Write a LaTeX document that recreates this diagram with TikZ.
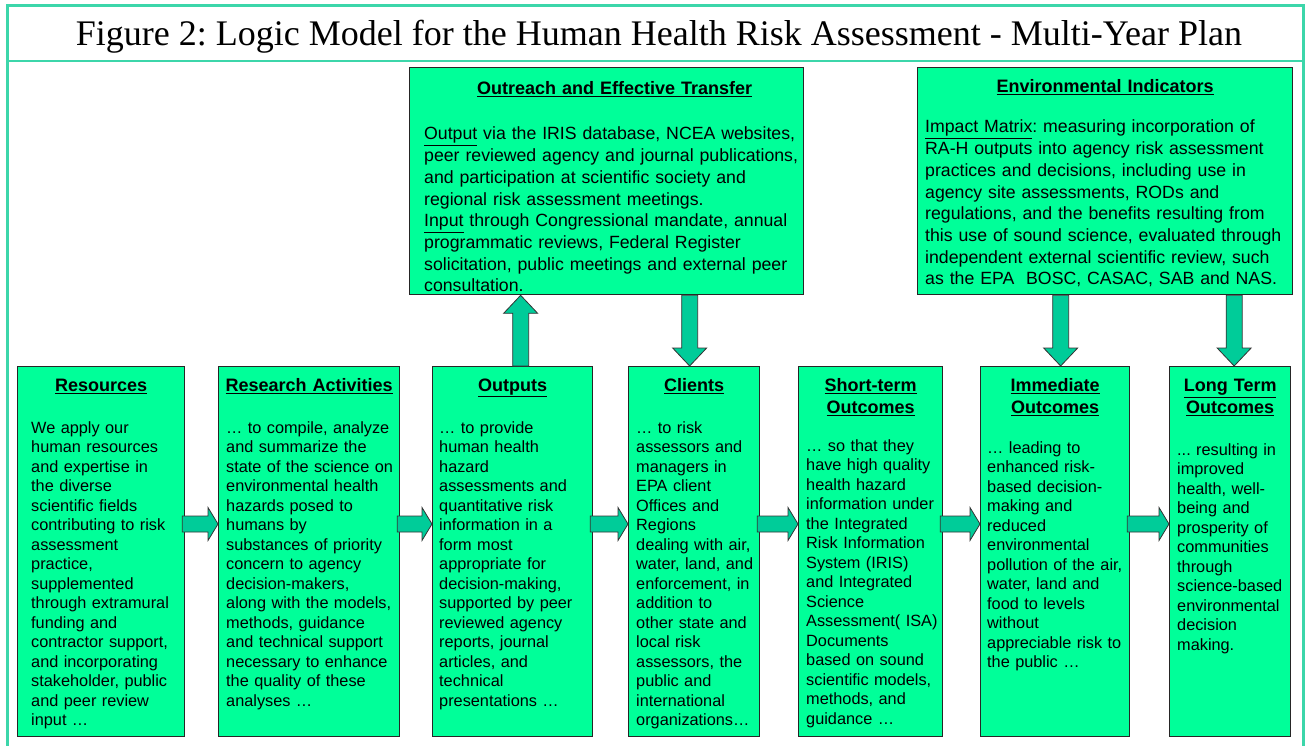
\documentclass[tikz,border=0pt]{standalone}
\usepackage{fontspec}
\setmainfont{Liberation Serif}
\setsansfont{Liberation Sans}
\usetikzlibrary{calc}
\frenchspacing

\definecolor{framegreen}{RGB}{60,214,170}
\definecolor{boxgreen}{RGB}{0,255,153}
\definecolor{arrowgreen}{RGB}{0,204,153}

\tikzset{
  box/.style={draw=black!85, line width=1.3pt, fill=boxgreen, anchor=north west, inner sep=0pt},
  boxhead/.style={font=\sffamily\bfseries\fontsize{18}{22}\selectfont, align=center, text width=170pt, anchor=base, inner sep=0pt},
  boxbody/.style={font=\sffamily\fontsize{16.3}{19.5}\selectfont, align=left, text width=200pt, anchor=base west, inner sep=0pt},
  topbody/.style={boxbody, font=\sffamily\fontsize{17.7}{21.7}\selectfont, text width=400pt},
  blockarrow/.style={draw=black!80, line width=0.8pt, fill=arrowgreen},
  frameline/.style={draw=framegreen, line width=3pt}
}

% block arrows between the boxes
\newcommand{\blockright}[2]{%
  \path[blockarrow] let \p1=([yshift=-158pt]#1.north east), \p2=([yshift=-158pt]#2.north west) in
    (\x1-3pt,\y1+8pt) -- (\x2-10pt,\y1+8pt) -- (\x2-10pt,\y1+16.5pt) -- (\x2,\y1)
    -- (\x2-10pt,\y1-16.5pt) -- (\x2-10pt,\y1-8pt) -- (\x1-3pt,\y1-8pt) -- cycle;}
\newcommand{\blockup}[3]{%
  \path[blockarrow] let \p1=([xshift=#3]#1.north), \p2=(#2.south) in
    (\x1-8pt,\y1) -- (\x1-8pt,\y2-18pt) -- (\x1-17pt,\y2-18pt) -- (\x1,\y2)
    -- (\x1+17pt,\y2-18pt) -- (\x1+8pt,\y2-18pt) -- (\x1+8pt,\y1) -- cycle;}
\newcommand{\blockdown}[3]{%
  \path[blockarrow] let \p1=(#1.south), \p2=([xshift=#3]#2.north) in
    (\x2-8pt,\y1) -- (\x2-8pt,\y2+18pt) -- (\x2-17pt,\y2+18pt) -- (\x2,\y2)
    -- (\x2+17pt,\y2+18pt) -- (\x2+8pt,\y2+18pt) -- (\x2+8pt,\y1) -- cycle;}

\begin{document}
\begin{tikzpicture}[x=1pt, y=-1pt]
  \useasboundingbox (0,0) rectangle (1307,746);
  \draw[frameline] (7.5,760) -- (7.5,6) -- (1303,6) -- (1303,760);
  \draw[frameline, line width=2pt] (7.5,61) -- (1303,61);
  \node[anchor=base, font=\fontsize{36}{40}\selectfont] (title) at (659,46)
    {Figure 2: Logic Model for the Human Health Risk Assessment - Multi-Year Plan};

  % top boxes
  \node[box, minimum width=394pt, minimum height=227pt] (reach) at (409,67) {};
  \node[box, minimum width=375pt, minimum height=227pt] (envind) at (917,67) {};

  % bottom row
  \node[box, minimum width=167pt, minimum height=370pt] (res) at (17,366) {};
  \node[box, minimum width=181pt, minimum height=370pt] (rsa) at (218,366) {};
  \node[box, minimum width=160pt, minimum height=370pt] (outp) at (432,366) {};
  \node[box, minimum width=131pt, minimum height=370pt] (cli) at (628,366) {};
  \node[box, minimum width=144pt, minimum height=370pt] (sho) at (798,366) {};
  \node[box, minimum width=149pt, minimum height=370pt] (imm) at (980,366) {};
  \node[box, minimum width=121pt, minimum height=370pt] (lon) at (1169,366) {};

  \blockright{res}{rsa}
  \blockright{rsa}{outp}
  \blockright{outp}{cli}
  \blockright{cli}{sho}
  \blockright{sho}{imm}
  \blockright{imm}{lon}
  \blockup{outp}{reach}{8pt}
  \blockdown{reach}{cli}{-4.5pt}
  \blockdown{envind}{imm}{5.5pt}
  \blockdown{envind}{lon}{4pt}

  \node[boxhead, text width=380pt] (reachhead) at ([xshift=8pt,yshift=-27.5pt]reach.north)
    {\underline{Outreach and Effective Transfer}};
  \node[topbody] (reachtxt) at ([xshift=15pt,yshift=-73pt]reach.north west)
    {\underline{Output} via the IRIS database, NCEA websites,\\
     peer reviewed agency and journal publications,\\
     and participation at scientific society and\\
     regional risk assessment meetings.\\
     \underline{Input} through Congressional mandate, annual\\
     programmatic reviews, Federal Register\\
     solicitation, public meetings and external peer\\
     consultation.};
  \node[boxhead, text width=370pt] (envhead) at ([yshift=-26pt]envind.north)
    {\underline{Environmental Indicators}};
  \node[topbody] (envtxt) at ([xshift=8pt,yshift=-66pt]envind.north west)
    {\underline{Impact Matrix}: measuring incorporation of\\
     RA-H outputs into agency risk assessment\\
     practices and decisions, including use in\\
     agency site assessments, RODs and\\
     regulations, and the benefits resulting from\\
     this use of sound science, evaluated through\\
     independent external scientific review, such\\
     as the EPA~ BOSC, CASAC, SAB and NAS.};

  \node[boxhead] (reshead) at ([yshift=-25.5pt]res.north) {\underline{Resources}};
  \node[boxbody] (restxt) at ([xshift=14pt,yshift=-67pt]res.north west)
    {We apply our\\ human resources\\ and expertise in\\ the diverse\\ scientific fields\\
     contributing to risk\\ assessment\\ practice,\\ supplemented\\ through extramural\\
     funding and\\ contractor support,\\ and incorporating\\ stakeholder, public\\
     and peer review\\ input …};

  \node[boxhead, text width=200pt] (rsahead) at ([yshift=-25.5pt]rsa.north) {\underline{Research Activities}};
  \node[boxbody] (rsatxt) at ([xshift=8pt,yshift=-67pt]rsa.north west)
    {… to compile, analyze\\ and summarize the\\ state of the science on\\ environmental health\\
     hazards posed to\\ humans by\\ substances of priority\\ concern to agency\\
     decision-makers,\\ along with the models,\\ methods, guidance\\ and technical support\\
     necessary to enhance\\ the quality of these\\ analyses …};

  \node[boxhead] (outphead) at ([yshift=-25.5pt]outp.north) {\underline{Outputs}};
  \node[boxbody] (outptxt) at ([xshift=7pt,yshift=-67pt]outp.north west)
    {… to provide\\ human health\\ hazard\\ assessments and\\ quantitative risk\\
     information in a\\ form most\\ appropriate for\\ decision-making,\\ supported by peer\\
     reviewed agency\\ reports, journal\\ articles, and\\ technical\\ presentations …};

  \node[boxhead] (clihead) at ([yshift=-25.5pt]cli.north) {\underline{Clients}};
  \node[boxbody] (clitxt) at ([xshift=8pt,yshift=-67pt]cli.north west)
    {… to risk\\ assessors and\\ managers in\\ EPA client\\ Offices and\\ Regions\\
     dealing with air,\\ water, land, and\\ enforcement, in\\ addition to\\ other state and\\
     local risk\\ assessors, the\\ public and\\ international\\ organizations…};

  \node[boxhead] (shohead) at ([yshift=-25.5pt]sho.north) {\underline{Short-term}\\ \underline{Outcomes}};
  \node[boxbody] (shotxt) at ([xshift=8pt,yshift=-85pt]sho.north west)
    {… so that they\\ have high quality\\ health hazard\\ information under\\ the Integrated\\
     Risk Information\\ System (IRIS)\\ and Integrated\\ Science\\ Assessment( ISA)\\
     Documents\\ based on sound\\ scientific models,\\ methods, and\\ guidance …};

  \node[boxhead] (immhead) at ([yshift=-25.5pt]imm.north) {\underline{Immediate}\\ \underline{Outcomes}};
  \node[boxbody] (immtxt) at ([xshift=7pt,yshift=-87pt]imm.north west)
    {… leading to\\ enhanced risk-\\ based decision-\\ making and\\ reduced\\ environmental\\
     pollution of the air,\\ water, land and\\ food to levels\\ without\\ appreciable risk to\\
     the public …};

  \node[boxhead] (lonhead) at ([yshift=-25.5pt]lon.north) {\underline{Long Term}\\ \underline{Outcomes}};
  \node[boxbody] (lontxt) at ([xshift=8pt,yshift=-89pt]lon.north west)
    {... resulting in\\ improved\\ health, well-\\ being and\\ prosperity of\\ communities\\
     through\\ science-based\\ environmental\\ decision\\ making.};
\end{tikzpicture}
\end{document}
